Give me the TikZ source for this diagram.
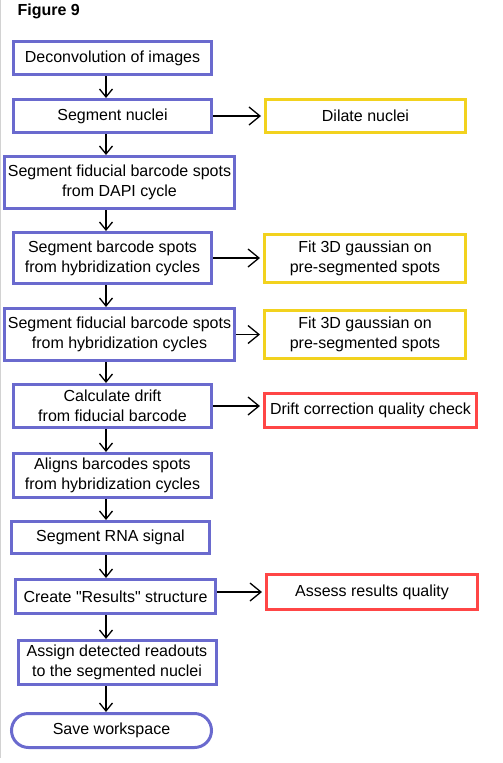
\documentclass[tikz,border=0pt]{standalone}
\usepackage{fontspec}
\setmainfont{Liberation Sans}
\usepackage{xcolor}
\usepackage{tikz}
\usetikzlibrary{positioning,arrows.meta}
\definecolor{stepblue}{RGB}{106, 106, 206}
\definecolor{fityellow}{RGB}{242, 210, 30}
\definecolor{checkred}{RGB}{255, 70, 70}
\definecolor{framegray}{RGB}{210, 210, 210}

\begin{document}
\begin{tikzpicture}[
  x=1pt, y=-1pt,
  box/.style={rectangle, draw=stepblue, line width=3pt, align=center, minimum width=198pt, minimum height=33pt, inner sep=2pt, font=\fontsize{16}{20}\selectfont},
  wide/.style={minimum width=230pt, minimum height=52pt},
  sidebox/.style={box, draw=fityellow, minimum width=201pt},
  qcbox/.style={box, draw=checkred, minimum width=212pt},
  arrow/.style={-{Straight Barb[length=8pt, width=13pt]}, line width=1.3pt},
  sidearrow/.style={-{Straight Barb[length=11pt, width=18pt]}, line width=1.3pt, shorten >=3pt}
]
\useasboundingbox (0,0) rectangle (503,763);
\draw[framegray, line width=1pt] (0.5,0) -- (0.5,758);

\node[anchor=base west, font=\bfseries\fontsize{16}{20}\selectfont] (title) at (14,15) {Figure 9};

% Main column
\node[box] (deconv) at (112.5,58) {Deconvolution of images};
\node[box, below=22pt of deconv] (segnuc) {Segment nuclei};
\node[box, wide, below=21pt of segnuc, xshift=7pt] (segdapi) {Segment fiducial barcode spots\\from DAPI cycle};
\node[box, minimum height=51pt, below=21pt of segdapi, xshift=-7pt] (segbar) {Segment barcode spots\\from hybridization cycles};
\node[box, wide, below=22pt of segbar, xshift=7pt] (segfid) {Segment fiducial barcode spots\\from hybridization cycles};
\node[box, minimum height=43pt, below=21pt of segfid, xshift=-7pt] (drift) {Calculate drift\\from fiducial barcode};
\node[box, minimum height=44pt, below=23pt of drift] (align) {Aligns barcodes spots\\from hybridization cycles};
\node[box, minimum height=32pt, below=21pt of align, xshift=-2pt] (rna) {Segment RNA signal};
\node[box, minimum width=200pt, minimum height=34pt, below=23pt of rna, xshift=5pt] (results) {Create \textquotedbl Results\textquotedbl{} structure};
\node[box, minimum height=44pt, below=24pt of results, xshift=1.5pt] (assign) {Assign detected readouts\\to the segmented nuclei};
\node[box, minimum width=200pt, minimum height=34pt, rounded corners=17pt, below=26pt of assign, xshift=-5.5pt] (save) {Save workspace};

% Side column
\node[sidebox, minimum width=200pt, right=51pt of segnuc] (dilate) {Dilate nuclei};
\node[sidebox, minimum height=48pt, right=50pt of segbar] (fitbar) {Fit 3D gaussian on\\pre-segmented spots};
\node[sidebox, minimum height=48pt, right=27pt of segfid] (fitfid) {Fit 3D gaussian on\\pre-segmented spots};
\node[qcbox, minimum height=34pt, right=50pt of drift, yshift=-4pt] (driftqc) {Drift correction quality check};
\node[qcbox, minimum width=211pt, minimum height=35pt, right=48pt of results, yshift=4.5pt] (assess) {Assess results quality};

% Arrows
\coordinate (axis) at (106,0);
\draw[arrow] (axis |- deconv.south) -- (axis |- segnuc.north);
\draw[arrow] (axis |- segnuc.south) -- (axis |- segdapi.north);
\draw[arrow] (axis |- segdapi.south) -- (axis |- segbar.north);
\draw[arrow] (axis |- segbar.south) -- (axis |- segfid.north);
\draw[arrow] (axis |- segfid.south) -- (axis |- drift.north);
\draw[arrow] (axis |- drift.south) -- (axis |- align.north);
\draw[arrow] (axis |- align.south) -- (axis |- rna.north);
\draw[arrow] (axis |- rna.south) -- (axis |- results.north);
\draw[arrow] (axis |- results.south) -- (axis |- assign.north);
\draw[arrow] (axis |- assign.south) -- (axis |- save.north);

% Side arrows
\draw[sidearrow] (segnuc.east) -- (segnuc.east -| dilate.west);
\draw[sidearrow] (segbar.east) -- (fitbar.west);
\draw[sidearrow] (segfid.east) -- (fitfid.west);
\draw[sidearrow] (drift.east) -- (drift.east -| driftqc.west);
\draw[sidearrow] (results.east |- assess.west) -- (assess.west);

\end{tikzpicture}
\end{document}
